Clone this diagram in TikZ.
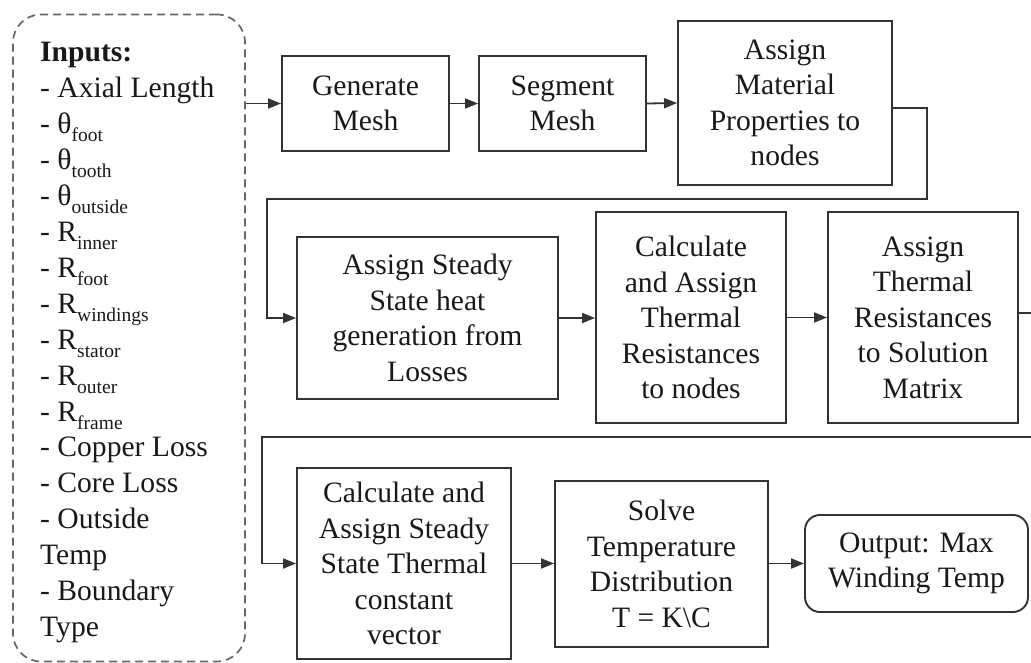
\documentclass[tikz,border=0pt]{standalone}
\usepackage{fontspec}
\setmainfont{Liberation Serif}
\usetikzlibrary{arrows.meta}
\newcommand\sbx[1]{\raisebox{-8pt}{\fontsize{19.5}{19.5}\selectfont #1}}
\begin{document}
\begin{tikzpicture}[x=1pt,y=-1pt,
  boxst/.style={draw=black!80, line width=1.9pt, align=center, inner sep=0pt,
    font=\fontsize{29.6}{35.5}\selectfont, text=black!90},
  arr/.style={line width=1.8pt, draw=black!80, -{Triangle[length=13pt,width=10pt]}},
  inl/.style={anchor=base west, inner sep=0pt, font=\fontsize{29.6}{35.5}\selectfont, text=black!90}]
\useasboundingbox (0,0) rectangle (1031,663);
\node[draw=black!60, dash pattern=on 8pt off 5pt, line width=1.7pt, rounded corners=28pt,
  minimum width=232pt, minimum height=647pt, inner sep=0pt] (inputs) at (129,338) {};
\foreach \t [count=\i from 0] in {{\textbf{Inputs:}}, {- Axial Length}, {- θ\sbx{foot}},
  {- θ\sbx{tooth}}, {- θ\sbx{outside}}, {- R\sbx{inner}}, {- R\sbx{foot}}, {- R\sbx{windings}},
  {- R\sbx{stator}}, {- R\sbx{outer}}, {- R\sbx{frame}}, {- Copper Loss}, {- Core Loss},
  {- Outside}, {Temp}, {- Boundary}, {Type}}
  \node[inl] (in\i) at (40,{62+35.9*\i}) {\t};

\node[boxst, minimum width=167pt, minimum height=95pt] (gm) at (365.5,103.5) {Generate\\Mesh};
\node[boxst, minimum width=167pt, minimum height=95pt] (sm) at (562.5,103.5) {Segment\\Mesh};
\node[boxst, minimum width=214pt, minimum height=164pt] (amp) at (785,103) {Assign\\Material\\Properties to\\nodes};
\node[boxst, minimum width=261pt, minimum height=162pt] (ass) at (427.5,318) {Assign Steady\\State heat\\generation from\\Losses};
\node[boxst, minimum width=190pt, minimum height=211pt] (catr) at (691,317.5) {Calculate\\and Assign\\Thermal\\Resistances\\to nodes};
\node[boxst, minimum width=190pt, minimum height=211pt] (atr) at (923,317.5) {Assign\\Thermal\\Resistances\\to Solution\\Matrix};
\node[boxst, minimum width=214pt, minimum height=191pt] (cast) at (404,563.5) {Calculate and\\Assign Steady\\State Thermal\\constant\\vector};
\node[boxst, minimum width=213pt, minimum height=166pt] (solve) at (661.5,564) {Solve\\Temperature\\Distribution\\T = K\textbackslash C};
\node[boxst, rounded corners=15pt, minimum width=223pt, minimum height=97pt] (out) at (916.5,563.5) {Output: Max\\Winding Temp};

\coordinate (r1a) at (927,108);
\coordinate (r1b) at (927,199);
\coordinate (r1c) at (267,199);
\coordinate (r2a) at (1035,313);
\coordinate (r2b) at (1035,437);
\coordinate (r2c) at (262,437);

\draw[arr] (inputs.east |- gm.west) -- (gm.west);
\draw[arr] (gm.east) -- (sm.west);
\draw[arr] (sm.east) -- (amp.west);
\draw[arr] (amp.east |- r1a) -- (r1a) -- (r1b) -- (r1c) |- (ass.west);
\draw[arr] (ass.east) -- (ass.east -| catr.west);
\draw[arr] (catr.east) -- (atr.west);
\draw[arr] (atr.east |- r2a) -- (r2a) -- (r2b) -- (r2c) |- (cast.west);
\draw[arr] (cast.east) -- (cast.east -| solve.west);
\draw[arr] (solve.east |- out.west) -- (out.west);
\end{tikzpicture}
\end{document}
